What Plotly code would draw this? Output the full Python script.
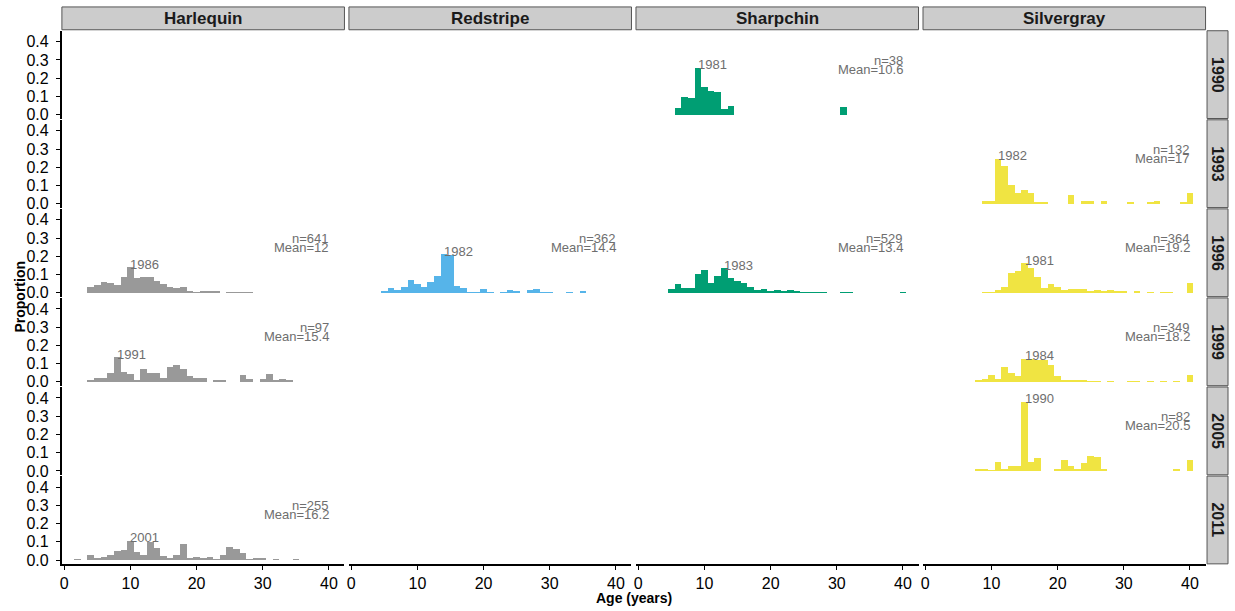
import plotly.graph_objects as go

# ---------------- data ----------------
species = ["Harlequin", "Redstripe", "Sharpchin", "Silvergray"]
years = [1990, 1993, 1996, 1999, 2005, 2011]
species_colors = ["#999999", "#56B4E9", "#009E73", "#F0E442"]

harlequin_1996_age = [4, 5, 6, 7, 8, 9, 10, 11, 12, 13, 14, 15, 16, 17, 18, 19, 20, 21, 22, 23, 25, 26, 27, 28]
harlequin_1996_prop = [0.033, 0.043, 0.060, 0.054, 0.043, 0.087, 0.141, 0.082, 0.087, 0.087, 0.065, 0.049,
                       0.033, 0.027, 0.033, 0.011, 0.005, 0.010, 0.010, 0.010, 0.005, 0.005, 0.005, 0.005]

harlequin_1999_age = [4, 5, 6, 7, 8, 9, 10, 11, 12, 13, 14, 15, 16, 17, 18, 19, 20, 21, 23, 24, 27, 28, 30, 31, 32, 33, 34]
harlequin_1999_prop = [0.0103, 0.0206, 0.0206, 0.0515, 0.134, 0.0567, 0.0412, 0.0103, 0.0722, 0.0515, 0.0515, 0.0206,
                       0.0825, 0.0928, 0.0722, 0.0309, 0.0206, 0.0206, 0.0103, 0.0103, 0.0361, 0.0155, 0.0155,
                       0.0412, 0.0103, 0.0155, 0.0103]

harlequin_2011_age = [2, 4, 5, 6, 7, 8, 9, 10, 11, 12, 13, 14, 15, 16, 17, 18, 19, 20, 21, 22, 23, 24, 25, 26, 27,
                      28, 29, 30, 32, 35]
harlequin_2011_prop = [0.004, 0.029, 0.007, 0.018, 0.029, 0.051, 0.056, 0.105, 0.045, 0.029, 0.100, 0.067, 0.024,
                       0.013, 0.029, 0.089, 0.013, 0.018, 0.013, 0.018, 0.005, 0.029, 0.072, 0.061, 0.040,
                       0.005, 0.013, 0.007, 0.005, 0.005]

redstripe_1996_age = [5, 6, 7, 8, 9, 10, 11, 12, 13, 14, 15, 16, 17, 18, 19, 20, 21, 23, 24, 25, 27, 28, 29, 30, 33, 35]
redstripe_1996_prop = [0.011, 0.027, 0.016, 0.033, 0.071, 0.049, 0.033, 0.060, 0.092, 0.212, 0.210, 0.038, 0.027,
                       0.005, 0.005, 0.022, 0.005, 0.005, 0.016, 0.011, 0.016, 0.022, 0.005, 0.005, 0.005, 0.011]

sharpchin_1990_age = [6, 7, 8, 9, 10, 11, 12, 13, 14, 31]
sharpchin_1990_prop = [0.040, 0.100, 0.095, 0.260, 0.155, 0.130, 0.125, 0.030, 0.050, 0.045]

sharpchin_1996_age = [5, 6, 7, 8, 9, 10, 11, 12, 13, 14, 15, 16, 17, 18, 19, 20, 21, 22, 23, 24, 25, 26, 27, 28,
                      31, 32, 40]
sharpchin_1996_prop = [0.022, 0.049, 0.027, 0.027, 0.103, 0.125, 0.054, 0.092, 0.136, 0.082, 0.065, 0.054, 0.033,
                       0.016, 0.022, 0.011, 0.016, 0.011, 0.016, 0.011, 0.005, 0.005, 0.005, 0.005,
                       0.005, 0.005, 0.005]

silvergray_1993_age = [9, 10, 11, 12, 13, 14, 15, 16, 17, 18, 22, 24, 25, 27, 31, 34, 35, 39, 40]
silvergray_1993_prop = [0.015, 0.015, 0.246, 0.208, 0.105, 0.062, 0.078, 0.062, 0.0076, 0.0076, 0.050, 0.015,
                        0.015, 0.015, 0.0076, 0.0076, 0.018, 0.0076, 0.062]

silvergray_1996_age = [9, 10, 11, 12, 13, 14, 15, 16, 17, 18, 19, 20, 21, 22, 23, 24, 25, 26, 27, 28, 29, 30, 32,
                       34, 36, 37, 40]
silvergray_1996_prop = [0.005, 0.005, 0.016, 0.033, 0.109, 0.120, 0.163, 0.136, 0.087, 0.027, 0.049, 0.033, 0.016,
                        0.022, 0.022, 0.022, 0.011, 0.016, 0.011, 0.016, 0.011, 0.011, 0.011,
                        0.005, 0.005, 0.005, 0.054]

silvergray_1999_age = [8, 9, 10, 11, 12, 13, 14, 15, 16, 17, 18, 19, 20, 21, 22, 23, 24, 25, 26, 28, 31, 32, 34,
                       36, 38, 40]
silvergray_1999_prop = [0.0072, 0.018, 0.040, 0.018, 0.083, 0.051, 0.034, 0.127, 0.125, 0.118, 0.118, 0.094, 0.034,
                        0.007, 0.013, 0.013, 0.007, 0.003, 0.003, 0.003, 0.003, 0.003, 0.003,
                        0.003, 0.003, 0.040]

silvergray_2005_age = [8, 9, 10, 11, 12, 13, 14, 15, 16, 17, 20, 21, 22, 23, 24, 25, 26, 27, 38, 40]
silvergray_2005_prop = [0.0122, 0.0122, 0.005, 0.049, 0.006, 0.0244, 0.0244, 0.380, 0.049, 0.070, 0.0122, 0.058,
                        0.0244, 0.0122, 0.045, 0.083, 0.078, 0.0122, 0.0122, 0.061]

# panel descriptors: species index, year index, ages, proportions, n, mean, brood-year label
panel_species = [2, 3, 0, 1, 2, 3, 0, 3, 3, 0]
panel_year = [0, 1, 2, 2, 2, 2, 3, 3, 4, 5]
panel_ages = [sharpchin_1990_age, silvergray_1993_age, harlequin_1996_age, redstripe_1996_age,
              sharpchin_1996_age, silvergray_1996_age, harlequin_1999_age, silvergray_1999_age,
              silvergray_2005_age, harlequin_2011_age]
panel_props = [sharpchin_1990_prop, silvergray_1993_prop, harlequin_1996_prop, redstripe_1996_prop,
               sharpchin_1996_prop, silvergray_1996_prop, harlequin_1999_prop, silvergray_1999_prop,
               silvergray_2005_prop, harlequin_2011_prop]
panel_n = ["38", "132", "641", "362", "529", "364", "97", "349", "82", "255"]
panel_mean = ["10.6", "17", "12", "14.4", "13.4", "19.2", "15.4", "18.2", "20.5", "16.2"]
panel_brood = ["1981", "1982", "1986", "1982", "1983", "1981", "1991", "1984", "1990", "2001"]

x_ticks = [0, 10, 20, 30, 40]
y_ticks = [0.0, 0.1, 0.2, 0.3, 0.4]

# ---------------- layout geometry (pixels) ----------------
W, H = 1235, 611
NR, NC = 6, 4
col_left = [60 + 287.5 * c for c in range(NC)]
panel_w = 283
row_top = [31 + 89.8 * r for r in range(NR)]
panel_h = 88.5
x_range = [-0.35, 42.35]
y_range = [-0.021, 0.46]

FONT = "Liberation Sans, Arial, sans-serif"
TXT_GREY = "#6e6e6e"


def px_x(p):
    return p / W


def px_y(p):
    return 1 - p / H


def ax_id(r, c):
    return r * NC + c + 1


def ref_names(k):
    return ("x" if k == 1 else f"x{k}"), ("y" if k == 1 else f"y{k}")


fig = go.Figure()
layout = dict(
    width=W, height=H,
    margin=dict(l=0, r=0, t=0, b=0),
    paper_bgcolor="white", plot_bgcolor="white",
    showlegend=False, bargap=0,
    font=dict(family=FONT, color="black"),
)

for r in range(NR):
    for c in range(NC):
        k = ax_id(r, c)
        xr, yr = ref_names(k)
        xn = "xaxis" if k == 1 else f"xaxis{k}"
        yn = "yaxis" if k == 1 else f"yaxis{k}"
        bottom = r == NR - 1
        left = c == 0
        layout[xn] = dict(
            domain=[px_x(col_left[c]), px_x(col_left[c] + panel_w)],
            range=x_range, anchor=yr,
            showgrid=False, zeroline=False,
            showline=bottom, linecolor="black", linewidth=2,
            ticks="outside" if bottom else "", ticklen=4, tickwidth=1, tickcolor="black",
            tickvals=x_ticks, showticklabels=bottom,
            tickfont=dict(size=16, color="black", family=FONT),
        )
        layout[yn] = dict(
            domain=[px_y(row_top[r] + panel_h), px_y(row_top[r])],
            range=y_range, anchor=xr,
            showgrid=False, zeroline=False,
            showline=left, linecolor="black", linewidth=2,
            ticks="outside" if left else "", ticklen=4, tickwidth=1, tickcolor="black",
            tickvals=y_ticks, tickformat=".1f", showticklabels=left,
            ticklabelstandoff=4,
            tickfont=dict(size=16, color="black", family=FONT),
        )
        # empty placeholder trace so every panel's axes are drawn
        fig.add_trace(go.Scatter(x=[None], y=[None], xaxis=xr, yaxis=yr, mode="markers",
                                 hoverinfo="skip", showlegend=False))

annotations = []
shapes = []

for i in range(len(panel_ages)):
    s, yi = panel_species[i], panel_year[i]
    k = ax_id(yi, s)
    xr, yr = ref_names(k)
    ages, props = panel_ages[i], panel_props[i]
    fig.add_trace(go.Bar(x=ages, y=props, width=1, xaxis=xr, yaxis=yr,
                         marker=dict(color=species_colors[s], line=dict(width=0)),
                         hoverinfo="x+y"))
    j = props.index(max(props))
    annotations.append(dict(x=ages[j], y=props[j], xref=xr, yref=yr, text=panel_brood[i],
                            showarrow=False, xanchor="left", yanchor="middle", xshift=-2, yshift=3,
                            font=dict(size=13, color=TXT_GREY, family=FONT)))
    annotations.append(dict(x=40, y=0.298, xref=xr, yref=yr, text="n=" + panel_n[i],
                            showarrow=False, xanchor="right", yanchor="middle", xshift=2,
                            font=dict(size=13, color=TXT_GREY, family=FONT)))
    annotations.append(dict(x=40, y=0.248, xref=xr, yref=yr, text="Mean=" + panel_mean[i],
                            showarrow=False, xanchor="right", yanchor="middle", xshift=2,
                            font=dict(size=13, color=TXT_GREY, family=FONT)))

STRIP_FILL = "#cccccc"
STRIP_LINE = "#555555"
for c in range(NC):
    x0, x1 = col_left[c], col_left[c] + panel_w
    shapes.append(dict(type="rect", xref="paper", yref="paper",
                       x0=px_x(x0), x1=px_x(x1), y0=px_y(30), y1=px_y(7),
                       fillcolor=STRIP_FILL, line=dict(color=STRIP_LINE, width=1), layer="below"))
    annotations.append(dict(x=px_x((x0 + x1) / 2), y=px_y(18.5), xref="paper", yref="paper",
                            text="<b>" + species[c] + "</b>", showarrow=False,
                            xanchor="center", yanchor="middle",
                            font=dict(size=17, color="#1a1a1a", family=FONT)))
for r in range(NR):
    y0, y1 = row_top[r], row_top[r] + panel_h
    shapes.append(dict(type="rect", xref="paper", yref="paper",
                       x0=px_x(1207), x1=px_x(1228), y0=px_y(y1), y1=px_y(y0),
                       fillcolor=STRIP_FILL, line=dict(color=STRIP_LINE, width=1), layer="below"))
    annotations.append(dict(x=px_x(1217.5), y=px_y((y0 + y1) / 2), xref="paper", yref="paper",
                            text="<b>" + str(years[r]) + "</b>", showarrow=False, textangle=90,
                            xanchor="center", yanchor="middle",
                            font=dict(size=16, color="#1a1a1a", family=FONT)))

annotations.append(dict(x=px_x(18), y=px_y(299), xref="paper", yref="paper",
                        text="<b>Proportion</b>", showarrow=False, textangle=-90,
                        xanchor="center", yanchor="middle",
                        font=dict(size=14, color="black", family=FONT)))
annotations.append(dict(x=px_x(633), y=px_y(603), xref="paper", yref="paper",
                        text="<b>Age (years)</b>", showarrow=False,
                        xanchor="center", yanchor="middle",
                        font=dict(size=14, color="black", family=FONT)))

layout["annotations"] = annotations
layout["shapes"] = shapes
fig.update_layout(**layout)
fig.write_html("out.html")
